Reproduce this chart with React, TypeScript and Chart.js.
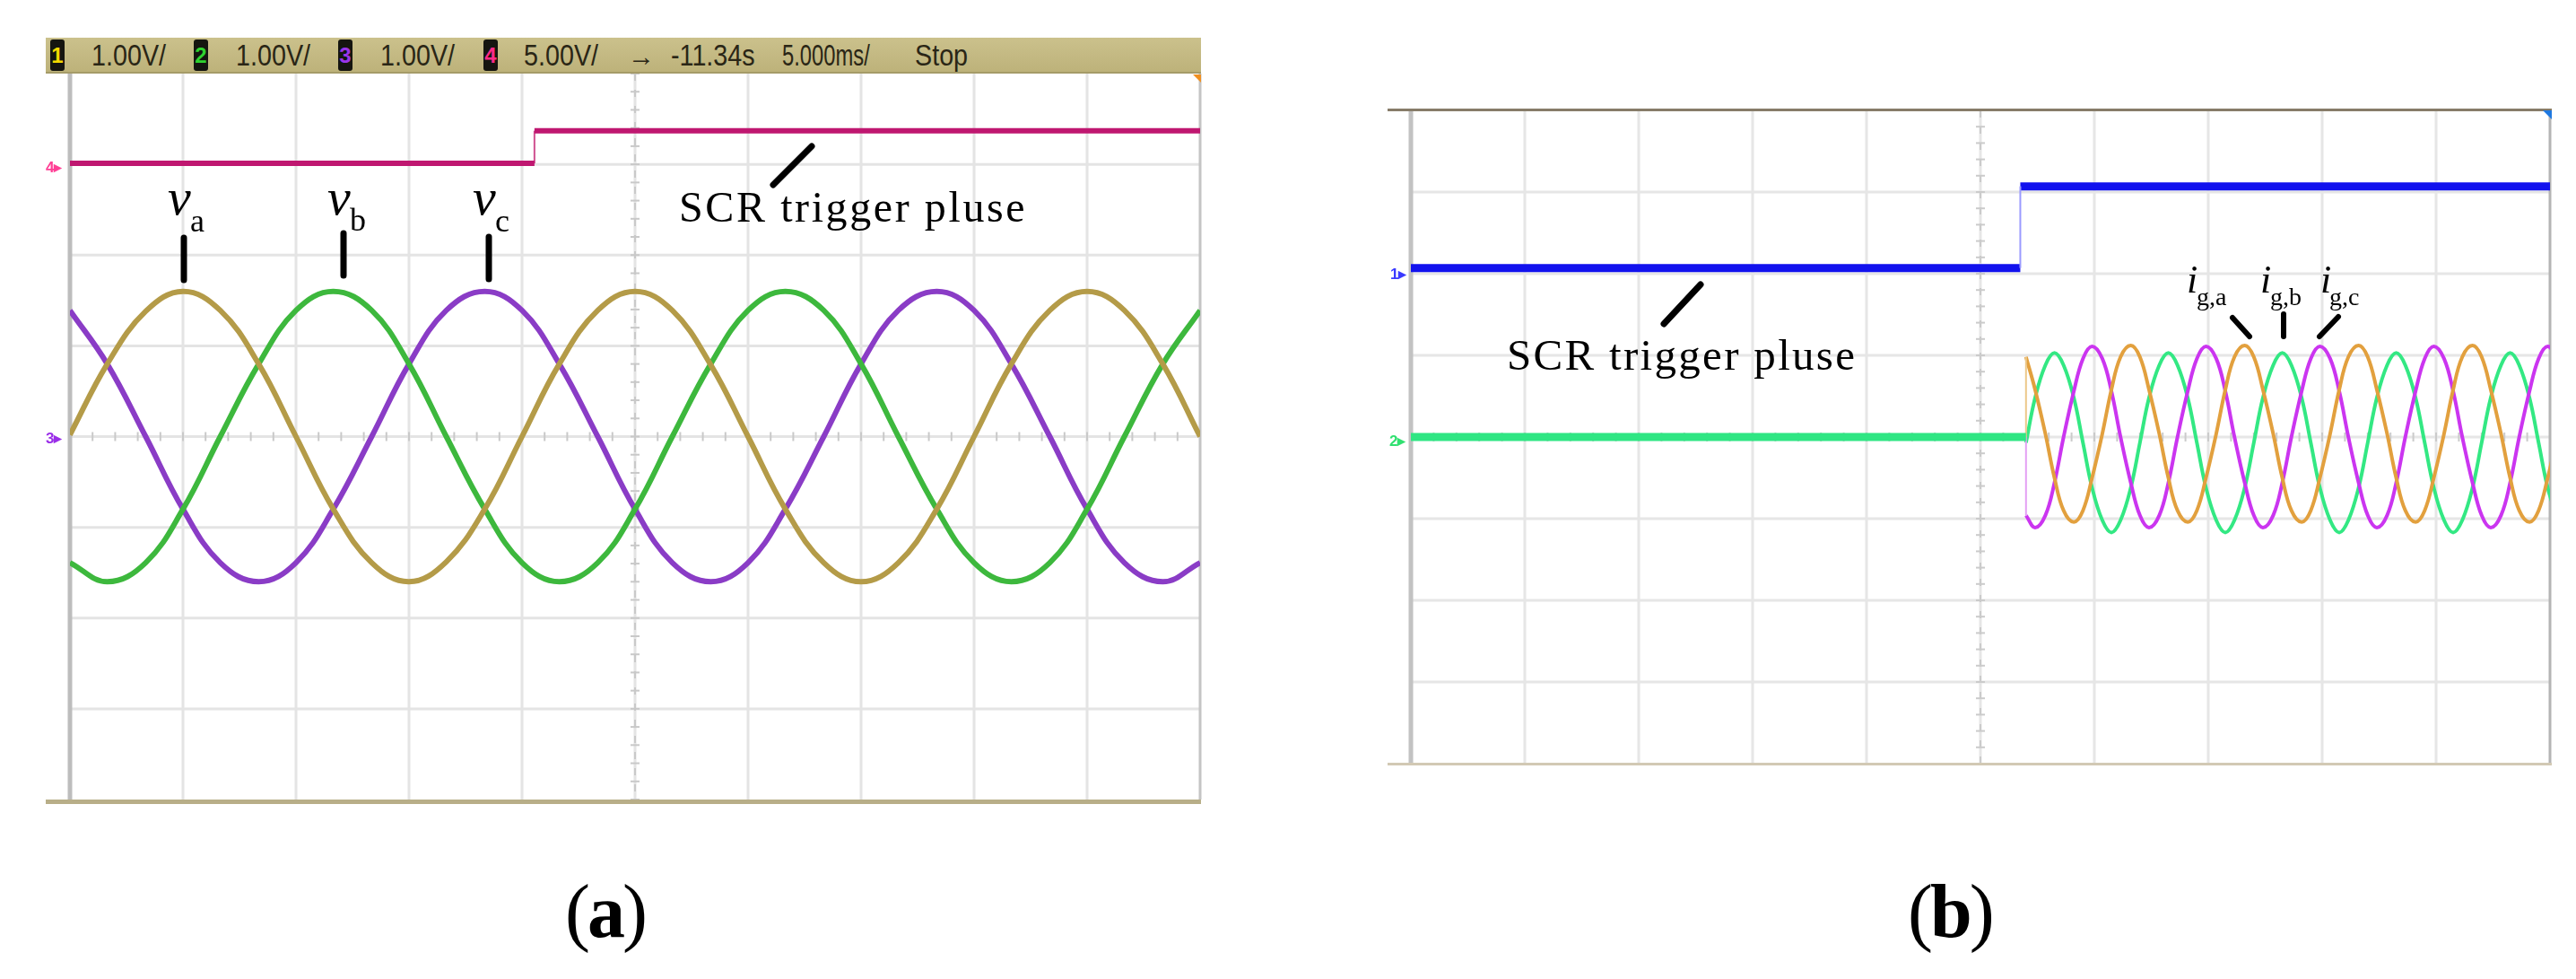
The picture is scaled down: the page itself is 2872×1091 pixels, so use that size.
import React, { useEffect, useRef } from "react";
import { Chart, registerables } from "chart.js";

Chart.register(...registerables);

// ---------------- shared scope grid (divisions) ----------------
const divX = [0, 1, 2, 3, 4, 5, 6, 7, 8, 9, 10];
const divY = [-4, -3, -2, -1, 0, 1, 2, 3, 4];

// ---------------- Panel (a): grid voltages, 1 V/div, 5 ms/div ----------------
const timeA = [0, 0.33, 0.67, 1, 1.33, 1.67, 2, 2.33, 2.67, 3, 3.33, 3.67, 4, 4.33, 4.67, 5, 5.33, 5.67, 6, 6.33, 6.67, 7, 7.33, 7.67, 8, 8.33, 8.67, 9, 9.33, 9.67, 10];
const vaValues = [0.02, 0.8, 1.38, 1.6, 1.39, 0.8, 0, -0.8, -1.39, -1.6, -1.38, -0.8, 0, 0.8, 1.39, 1.6, 1.39, 0.79, 0, -0.8, -1.39, -1.6, -1.39, -0.8, 0, 0.8, 1.39, 1.6, 1.39, 0.8, 0];
const vbValues = [-1.39, -1.6, -1.39, -0.8, 0, 0.8, 1.39, 1.6, 1.39, 0.8, 0, -0.8, -1.39, -1.6, -1.39, -0.8, 0, 0.8, 1.39, 1.6, 1.39, 0.8, 0, -0.8, -1.39, -1.6, -1.39, -0.8, 0, 0.8, 1.39];
const vcValues = [1.39, 0.8, 0, -0.8, -1.39, -1.6, -1.39, -0.8, 0, 0.8, 1.39, 1.6, 1.39, 0.8, 0, -0.8, -1.39, -1.6, -1.39, -0.8, 0, 0.8, 1.39, 1.6, 1.39, 0.8, 0, -0.8, -1.39, -1.6, -1.39];
const triggerTimeA = [0, 4.11, 10];
const triggerLevelA = [3.01, 3.37];

const headerScales = ["1.00V/", "1.00V/", "1.00V/", "5.00V/"];
const headerChannels = ["1", "2", "3", "4"];
const headerTime = ["-11.34s", "5.000ms/", "Stop"];

// ---------------- Panel (b): grid currents ----------------
const timeB = [
  5.40, 5.48, 5.57, 5.65, 5.73, 5.82, 5.90, 5.98, 6.07, 6.15, 6.23, 6.32,
  6.40, 6.48, 6.57, 6.65, 6.73, 6.82, 6.90, 6.98, 7.07, 7.15, 7.23, 7.32,
  7.40, 7.48, 7.57, 7.65, 7.73, 7.82, 7.90, 7.98, 8.07, 8.15, 8.23, 8.32,
  8.40, 8.48, 8.57, 8.65, 8.73, 8.82, 8.90, 8.98, 9.07, 9.15, 9.23, 9.32,
  9.40, 9.48, 9.57, 9.65, 9.73, 9.82, 9.90, 9.98, 10.07,
];
const igaValues = [
  0.98, 0.58, 0.04, -0.50, -0.90, -1.04, -0.90, -0.50, 0.04, 0.58, 0.98, 1.12,
  0.98, 0.58, 0.04, -0.50, -0.90, -1.04, -0.90, -0.50, 0.04, 0.58, 0.98, 1.12,
  0.98, 0.58, 0.04, -0.50, -0.90, -1.04, -0.90, -0.50, 0.04, 0.58, 0.98, 1.12,
  0.98, 0.58, 0.04, -0.50, -0.90, -1.04, -0.90, -0.50, 0.04, 0.58, 0.98, 1.12,
  0.98, 0.58, 0.04, -0.50, -0.90, -1.04, -0.90, -0.50, 0.04,
];
const igbValues = [
  -0.07, 0.48, 0.88, 1.03, 0.88, 0.48, -0.07, -0.62, -1.02, -1.17, -1.02, -0.62,
  -0.07, 0.48, 0.88, 1.03, 0.88, 0.48, -0.07, -0.62, -1.02, -1.17, -1.02, -0.62,
  -0.07, 0.48, 0.88, 1.03, 0.88, 0.48, -0.07, -0.62, -1.02, -1.17, -1.02, -0.62,
  -0.07, 0.48, 0.88, 1.03, 0.88, 0.48, -0.07, -0.62, -1.02, -1.17, -1.02, -0.62,
  -0.07, 0.48, 0.88, 1.03, 0.88, 0.48, -0.07, -0.62, -1.02,
];
const igcValues = [
  -0.96, -1.11, -0.96, -0.56, 0, 0.56, 0.96, 1.11, 0.96, 0.56, 0, -0.56,
  -0.96, -1.11, -0.96, -0.56, 0, 0.56, 0.96, 1.11, 0.96, 0.56, 0, -0.56,
  -0.96, -1.11, -0.96, -0.56, 0, 0.56, 0.96, 1.11, 0.96, 0.56, 0, -0.56,
  -0.96, -1.11, -0.96, -0.56, 0, 0.56, 0.96, 1.11, 0.96, 0.56, 0, -0.56,
  -0.96, -1.11, -0.96, -0.56, 0, 0.56, 0.96, 1.11, 0.96,
];
const preTimeB = [0, 5.40];
const preValueB = [0, 0];
const triggerTimeB = [0, 5.35, 10];
const triggerLevelB = [2.07, 3.07];

type Pt = { x: number; y: number };
const zip = (xs: number[], ys: number[]): Pt[] => xs.map((x, i) => ({ x, y: ys[i] }));

const gridPlugin = {
  id: "scopeGrid",
  beforeDatasetsDraw(chart: any, _a: any, opts: any) {
    const ctx = chart.ctx;
    const sx = chart.scales.x;
    const sy = chart.scales.y;
    const L = sx.getPixelForValue(divX[0]);
    const R = sx.getPixelForValue(divX[divX.length - 1]);
    const B = sy.getPixelForValue(divY[0]);
    const T = sy.getPixelForValue(divY[divY.length - 1]);
    const cx = sx.getPixelForValue(5);
    const cy = sy.getPixelForValue(0);
    const ln = (x1: number, y1: number, x2: number, y2: number) => {
      ctx.beginPath();
      ctx.moveTo(x1, y1);
      ctx.lineTo(x2, y2);
      ctx.stroke();
    };
    ctx.save();
    ctx.lineWidth = 3;
    ctx.strokeStyle = opts.grid;
    divX.forEach((v) => {
      if (v === 0 || v === 5 || v === 10) return;
      const p = sx.getPixelForValue(v);
      ln(p, T, p, B);
    });
    divY.forEach((v) => {
      if (v === -4 || v === 4) return;
      const p = sy.getPixelForValue(v);
      ln(L, p, R, p);
    });
    ln(cx, T, cx, B);
    ctx.setLineDash([8, 10]);
    ctx.lineWidth = 2;
    ctx.strokeStyle = opts.center;
    ln(cx, T, cx, B);
    ctx.setLineDash([]);
    ctx.lineWidth = 2;
    for (let i = -20; i <= 20; i++) {
      const p = sy.getPixelForValue(i * 0.2);
      ln(cx - 5, p, cx + 5, p);
    }
    for (let i = 0; i <= 50; i++) {
      const p = sx.getPixelForValue(i * 0.2);
      ln(p, cy - 5, p, cy + 5);
    }
    ctx.lineWidth = 5;
    ctx.strokeStyle = opts.left;
    ln(L, T, L, B);
    ctx.lineWidth = 3;
    ctx.strokeStyle = opts.right;
    ln(R, T, R, B);
    ctx.restore();
  },
};

const line = (data: Pt[], color: string, width: number, tension = 0.4) => ({
  data,
  borderColor: color,
  borderWidth: width,
  pointRadius: 0,
  tension,
  fill: false,
  borderJoinStyle: "round" as const,
});

function makeConfig(datasets: any[], padding: any, gridOpts: any) {
  return {
    type: "line" as const,
    data: { datasets },
    options: {
      animation: false as const,
      responsive: false,
      events: [],
      layout: { padding },
      plugins: { legend: { display: false }, tooltip: { enabled: false }, scopeGrid: gridOpts },
      scales: {
        x: { type: "linear" as const, min: 0, max: 10, display: false },
        y: { type: "linear" as const, min: -4, max: 4, display: false },
      },
    },
    plugins: [gridPlugin],
  };
}

const SERIF = '"Liberation Serif", "Times New Roman", serif';
const SANS = '"Liberation Sans", Arial, sans-serif';

const Txt = (p: { x: number; base: number; size: number; family?: string; style?: any; children: any }) => (
  <div
    style={{
      position: "absolute",
      left: p.x,
      top: p.base - p.size * 0.84,
      fontSize: p.size,
      lineHeight: `${p.size}px`,
      fontFamily: p.family || SERIF,
      whiteSpace: "nowrap",
      color: "#000",
      ...(p.style || {}),
    }}
  >
    {p.children}
  </div>
);

const Box = (p: { x: number; y: number; w: number; h: number; bg: string; style?: any }) => (
  <div style={{ position: "absolute", left: p.x, top: p.y, width: p.w, height: p.h, background: p.bg, ...(p.style || {}) }} />
);

export default function App() {
  const refA = useRef<HTMLCanvasElement | null>(null);
  const refB = useRef<HTMLCanvasElement | null>(null);

  useEffect(() => {
    const trigLowA = [{ x: triggerTimeA[0], y: triggerLevelA[0] }, { x: triggerTimeA[1], y: triggerLevelA[0] }];
    const trigHighA = [{ x: triggerTimeA[1], y: triggerLevelA[1] }, { x: triggerTimeA[2], y: triggerLevelA[1] }];
    const trigEdgeA = [{ x: triggerTimeA[1], y: triggerLevelA[0] }, { x: triggerTimeA[1], y: triggerLevelA[1] }];
    const chartA = new Chart(
      refA.current as HTMLCanvasElement,
      makeConfig(
        [
          line(trigLowA, "#bf1770", 6, 0),
          line(trigHighA, "#bf1770", 6, 0),
          line(trigEdgeA, "#d05090", 2, 0),
          line(zip(timeA, vaValues), "#b49b48", 6),
          line(zip(timeA, vbValues), "#3db83d", 6),
          line(zip(timeA, vcValues), "#8a3cc6", 6),
        ],
        { left: 38, top: 42, right: 12, bottom: 19 },
        { grid: "#e4e4e4", center: "#c9c9c9", left: "#bdbdbd", right: "#c4c4c4" }
      ) as any
    );

    const trigLowB = [{ x: triggerTimeB[0], y: triggerLevelB[0] }, { x: triggerTimeB[1], y: triggerLevelB[0] }];
    const trigHighB = [{ x: triggerTimeB[1], y: triggerLevelB[1] }, { x: triggerTimeB[2], y: triggerLevelB[1] }];
    const trigEdgeB = [{ x: triggerTimeB[1], y: triggerLevelB[0] }, { x: triggerTimeB[1], y: triggerLevelB[1] }];
    const jumpA = [{ x: timeB[0], y: 0 }, { x: timeB[0], y: igaValues[0] }];
    const jumpC = [{ x: timeB[0], y: 0 }, { x: timeB[0], y: igcValues[0] }];
    const chartB = new Chart(
      refB.current as HTMLCanvasElement,
      makeConfig(
        [
          line(trigEdgeB, "#9a9aff", 2, 0),
          line(trigLowB, "#1212ee", 9, 0),
          line(trigHighB, "#1212ee", 9, 0),
          line(zip(preTimeB, preValueB), "#2fe683", 9, 0),
          line(jumpA, "#ecc88a", 2, 0),
          line(jumpC, "#e4a0f4", 2, 0),
          line(zip(timeB, igaValues), "#e2a03e", 4),
          line(zip(timeB, igcValues), "#cb35f0", 4),
          line(zip(timeB, igbValues), "#33e883", 4),
        ],
        { left: 33, top: 13, right: 17, bottom: 19 },
        { grid: "#e6e6e6", center: "#cbcbcb", left: "#c2c2c2", right: "#b4b4b4" }
      ) as any
    );
    return () => {
      chartA.destroy();
      chartB.destroy();
    };
  }, []);

  const badgeX = [56, 216, 377, 539];
  const badgeColor = ["#f2d900", "#2fd22f", "#9a35ea", "#ff2a86"];
  const scaleX = [102, 263, 424, 584];
  const timeX = [748, 872, 1020];
  const timeSqueeze = [0.87, 0.72, 0.87];
  const narrow = (k: number) => ({ color: "#2a2616", transform: `scaleX(${k})`, transformOrigin: "left center" });

  return (
    <div style={{ position: "absolute", left: 0, top: 0, width: 2872, height: 1091, background: "#fff", overflow: "hidden" }}>
      <canvas ref={refA} width={1310} height={870} style={{ position: "absolute", left: 40, top: 40, width: 1310, height: 870 }} />
      <canvas ref={refB} width={1320} height={760} style={{ position: "absolute", left: 1540, top: 110, width: 1320, height: 760 }} />

      {/* Panel (a) header bar */}
      <Box x={51} y={42} w={1288} h={40} bg="linear-gradient(#cbc18c, #bdb27a)" style={{ borderBottom: "2px solid #a59b68", boxSizing: "border-box" }} />
      {headerChannels.map((c, i) => (
        <div
          key={"b" + i}
          style={{
            position: "absolute",
            left: badgeX[i],
            top: 44,
            width: 16,
            height: 35,
            background: "#151510",
            borderRadius: 3,
            color: badgeColor[i],
            fontFamily: SANS,
            fontWeight: "bold",
            fontSize: 24,
            lineHeight: "35px",
            textAlign: "center",
          }}
        >
          {c}
        </div>
      ))}
      {headerScales.map((s, i) => (
        <Txt key={"s" + i} x={scaleX[i]} base={73} size={33} family={SANS} style={narrow(0.87)}>
          {s}
        </Txt>
      ))}
      <Txt x={700} base={73} size={30} family={SANS} style={{ color: "#2a2616", fontWeight: "bold" }}>
        →
      </Txt>
      {headerTime.map((s, i) => (
        <Txt key={"t" + i} x={timeX[i]} base={73} size={33} family={SANS} style={narrow(timeSqueeze[i])}>
          {s}
        </Txt>
      ))}
      <div style={{ position: "absolute", left: 1330, top: 83, width: 9, height: 9, background: "#f09020", clipPath: "polygon(0 0, 100% 0, 100% 100%)" }} />
      {/* Panel (a) bottom line */}
      <Box x={51} y={891} w={1288} h={5} bg="#b8ae88" />
      {/* Panel (a) channel markers */}
      <Txt x={51} base={192} size={17} family={SANS} style={{ color: "#ff3f95", fontWeight: "bold" }}>4▸</Txt>
      <Txt x={51} base={494} size={17} family={SANS} style={{ color: "#9a2ee8", fontWeight: "bold" }}>3▸</Txt>

      {/* Panel (b) frame lines */}
      <Box x={1547} y={121} w={1298} h={3} bg="#877c69" />
      <Box x={1547} y={850} w={1298} h={3} bg="#d2c9b4" />
      <div style={{ position: "absolute", left: 2835, top: 123, width: 10, height: 10, background: "#1e78e0", clipPath: "polygon(0 0, 100% 0, 100% 100%)" }} />
      <Txt x={1550} base={311} size={17} family={SANS} style={{ color: "#3a3aff", fontWeight: "bold" }}>1▸</Txt>
      <Txt x={1549} base={497} size={17} family={SANS} style={{ color: "#30e070", fontWeight: "bold" }}>2▸</Txt>

      {/* annotations */}
      <svg width={2872} height={1091} style={{ position: "absolute", left: 0, top: 0, pointerEvents: "none" }}>
        <g stroke="#000" strokeWidth={7} strokeLinecap="round">
          <line x1={205} y1={265} x2={205} y2={312} />
          <line x1={383} y1={260} x2={383} y2={307} />
          <line x1={545} y1={264} x2={545} y2={311} />
          <line x1={905} y1={163} x2={862} y2={206} />
          <line x1={1896} y1={317} x2={1855} y2={361} />
        </g>
        <g stroke="#000" strokeWidth={6} strokeLinecap="round">
          <line x1={2489} y1={354} x2={2508} y2={375} />
          <line x1={2546} y1={350} x2={2546} y2={375} />
          <line x1={2607} y1={353} x2={2586} y2={375} />
        </g>
      </svg>

      <Txt x={187} base={240} size={58} style={{ fontStyle: "italic" }}>v</Txt>
      <Txt x={212} base={258} size={36}>a</Txt>
      <Txt x={365} base={240} size={58} style={{ fontStyle: "italic" }}>v</Txt>
      <Txt x={390} base={257} size={36}>b</Txt>
      <Txt x={527} base={240} size={58} style={{ fontStyle: "italic" }}>v</Txt>
      <Txt x={552} base={258} size={36}>c</Txt>

      <Txt x={757} base={247} size={48} style={{ letterSpacing: 2.6 }}>SCR trigger pluse</Txt>
      <Txt x={1680} base={412} size={49} style={{ letterSpacing: 2.3 }}>SCR trigger pluse</Txt>

      <Txt x={2438} base={327} size={44} style={{ fontStyle: "italic" }}>i</Txt>
      <Txt x={2449} base={341} size={28}>g,a</Txt>
      <Txt x={2520} base={327} size={44} style={{ fontStyle: "italic" }}>i</Txt>
      <Txt x={2531} base={341} size={28}>g,b</Txt>
      <Txt x={2587} base={327} size={44} style={{ fontStyle: "italic" }}>i</Txt>
      <Txt x={2597} base={341} size={28}>g,c</Txt>

      <Txt x={630} base={1045} size={84} style={{ letterSpacing: -3 }}>
        (<span style={{ fontWeight: "bold" }}>a</span>)
      </Txt>
      <Txt x={2127} base={1045} size={84} style={{ letterSpacing: -3 }}>
        (<span style={{ fontWeight: "bold" }}>b</span>)
      </Txt>
    </div>
  );
}
